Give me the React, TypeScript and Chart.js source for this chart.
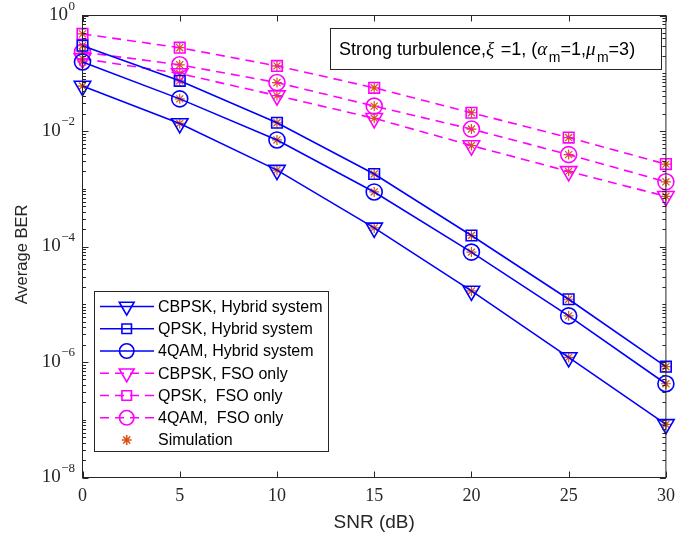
import React, { useEffect, useRef } from "react";
import { Chart, registerables } from "chart.js";
Chart.register(...registerables);

// ---------- data ----------
const snr = [0, 5, 10, 15, 20, 25, 30];
const cbpskHybrid = [6.0e-2, 1.35e-2, 2.1e-3, 2.1e-4, 1.7e-5, 1.2e-6, 8.3e-8];
const qpskHybrid = [3.0e-1, 7.4e-2, 1.39e-2, 1.8e-3, 1.55e-4, 1.22e-5, 8.3e-7];
const qamHybrid = [1.57e-1, 3.6e-2, 7.0e-3, 8.8e-4, 8.0e-5, 6.3e-6, 4.2e-7];
const cbpskFso = [1.79e-1, 9.9e-2, 4.1e-2, 1.66e-2, 5.6e-3, 2.0e-3, 7.4e-4];
const qpskFso = [4.8e-1, 2.77e-1, 1.34e-1, 5.6e-2, 2.07e-2, 7.7e-3, 2.67e-3];
const qamFso = [2.33e-1, 1.4e-1, 6.9e-2, 2.7e-2, 1.08e-2, 3.9e-3, 1.32e-3];

const seriesLabels = [
  "CBPSK, Hybrid system",
  "QPSK, Hybrid system",
  "4QAM, Hybrid system",
  "CBPSK, FSO only",
  "QPSK,  FSO only",
  "4QAM,  FSO only",
];
const simLabel = "Simulation";
const xTickValues = [0, 5, 10, 15, 20, 25, 30];
const yTickExponents = [0, -2, -4, -6, -8];
const xTitle = "SNR (dB)";
const yTitle = "Average BER";

// ---------- styles ----------
const BLUE = "#0000ff";
const MAGENTA = "#ff00ff";
const SIM = "#d95319";
const AXIS = "#262626";
const SANS = "'Liberation Sans', Arial, sans-serif";
const SERIF = "'Liberation Serif', 'Times New Roman', serif";

const styles = [
  { color: BLUE, dash: [] as number[], shape: "triangle", r: 9.5 },
  { color: BLUE, dash: [] as number[], shape: "rect", r: 7.5 },
  { color: BLUE, dash: [] as number[], shape: "circle", r: 8 },
  { color: MAGENTA, dash: [9, 6], shape: "triangle", r: 9.5 },
  { color: MAGENTA, dash: [9, 6], shape: "rect", r: 7.5 },
  { color: MAGENTA, dash: [9, 6], shape: "circle", r: 8 },
];
const seriesData = [cbpskHybrid, qpskHybrid, qamHybrid, cbpskFso, qpskFso, qamFso];

function drawShape(ctx: CanvasRenderingContext2D, shape: string, x: number, y: number, r: number, color: string) {
  ctx.save();
  ctx.strokeStyle = color;
  ctx.lineWidth = 1.6;
  ctx.setLineDash([]);
  ctx.beginPath();
  if (shape === "triangle") {
    const h = (r * Math.sqrt(3)) / 2;
    ctx.moveTo(x, y + r);
    ctx.lineTo(x - h, y - r / 2);
    ctx.lineTo(x + h, y - r / 2);
    ctx.closePath();
  } else if (shape === "rect") {
    const s = r * Math.SQRT1_2;
    ctx.rect(x - s, y - s, 2 * s, 2 * s);
  } else if (shape === "circle") {
    ctx.arc(x, y, r, 0, Math.PI * 2);
  } else if (shape === "star") {
    for (let i = 0; i < 4; i++) {
      const ang = (i * Math.PI) / 4;
      ctx.moveTo(x + Math.cos(ang) * r, y + Math.sin(ang) * r);
      ctx.lineTo(x - Math.cos(ang) * r, y - Math.sin(ang) * r);
    }
  }
  ctx.stroke();
  ctx.restore();
}

const decorPlugin = {
  id: "decor",
  beforeDraw(chart: any) {
    const { ctx, width, height } = chart;
    ctx.save();
    ctx.fillStyle = "#ffffff";
    ctx.fillRect(0, 0, width, height);
    ctx.restore();
  },
  afterDraw(chart: any) {
    const { ctx, chartArea: a, scales } = chart;
    const xs = scales.x;
    const ys = scales.y;
    ctx.save();
    ctx.strokeStyle = AXIS;
    ctx.lineWidth = 1;
    ctx.setLineDash([]);
    const line = (x1: number, y1: number, x2: number, y2: number) => {
      ctx.beginPath();
      ctx.moveTo(x1, y1);
      ctx.lineTo(x2, y2);
      ctx.stroke();
    };
    // x ticks
    for (const v of xTickValues) {
      const px = Math.round(xs.getPixelForValue(v)) + 0.5;
      line(px, a.bottom, px, a.bottom - 6);
      line(px, a.top, px, a.top + 6);
    }
    // y ticks
    for (let k = -8; k <= 0; k++) {
      const major = yTickExponents.includes(k);
      const py = Math.round(ys.getPixelForValue(Math.pow(10, k))) + 0.5;
      const len = major ? 6 : 3.5;
      line(a.left, py, a.left + len, py);
      line(a.right, py, a.right - len, py);
      if (k < 0) {
        for (let m = 2; m <= 9; m++) {
          const pm = Math.round(ys.getPixelForValue(m * Math.pow(10, k))) + 0.5;
          line(a.left, pm, a.left + 3.5, pm);
          line(a.right, pm, a.right - 3.5, pm);
        }
      }
    }
    // frame
    ctx.strokeRect(a.left, a.top, a.right - a.left, a.bottom - a.top);

    // tick labels
    ctx.fillStyle = AXIS;
    ctx.textBaseline = "middle";
    ctx.textAlign = "center";
    ctx.font = `18px ${SERIF}`;
    for (const v of xTickValues) {
      ctx.fillText(String(v), xs.getPixelForValue(v), a.bottom + 19);
    }
    ctx.textAlign = "left";
    for (const k of yTickExponents) {
      const py = ys.getPixelForValue(Math.pow(10, k));
      const sup = k === 0 ? "0" : "\u2212" + Math.abs(k);
      ctx.font = `13px ${SERIF}`;
      const supW = ctx.measureText(sup).width;
      ctx.font = `19px ${SERIF}`;
      const baseW = ctx.measureText("10").width;
      const xEnd = a.left - 7.5;
      const supX = xEnd - supW;
      ctx.fillText("10", supX - baseW - 0.5, py);
      ctx.font = `13px ${SERIF}`;
      ctx.fillText(sup, supX, py - 9);
    }

    // axis titles
    ctx.fillStyle = AXIS;
    ctx.font = `19px ${SANS}`;
    ctx.textAlign = "center";
    ctx.fillText(xTitle, (a.left + a.right) / 2, 523);
    ctx.save();
    ctx.translate(22, (a.top + a.bottom) / 2 + 8);
    ctx.rotate(-Math.PI / 2);
    ctx.font = `16.5px ${SANS}`;
    ctx.fillText(yTitle, 0, 0);
    ctx.restore();

    // annotation box
    ctx.fillStyle = "#ffffff";
    ctx.fillRect(330.5, 28.5, 331, 41);
    ctx.strokeStyle = AXIS;
    ctx.strokeRect(330.5, 28.5, 331, 41);
    const segs = [
      { t: "Strong turbulence,", f: `18px ${SANS}`, dy: 0 },
      { t: "\u03BE", f: `italic 19px ${SERIF}`, dy: 0 },
      { t: " =1, (", f: `18px ${SANS}`, dy: 0 },
      { t: "\u03B1", f: `italic 19px ${SERIF}`, dy: 0 },
      { t: "m", f: `14px ${SANS}`, dy: 7 },
      { t: "=1,", f: `18px ${SANS}`, dy: 0 },
      { t: "\u03BC", f: `italic 19px ${SERIF}`, dy: 0 },
      { t: "m", f: `14px ${SANS}`, dy: 7 },
      { t: "=3)", f: `18px ${SANS}`, dy: 0 },
    ];
    ctx.textBaseline = "alphabetic";
    ctx.textAlign = "left";
    ctx.fillStyle = "#000000";
    let tx = 339;
    for (const s of segs) {
      ctx.font = s.f;
      ctx.fillText(s.t, tx, 54.5 + s.dy);
      tx += ctx.measureText(s.t).width + (s.f.includes("italic") ? 1.5 : 0);
    }

    // legend
    const lx = 94.5, ly = 291.5, lw = 234, lh = 160;
    ctx.fillStyle = "#ffffff";
    ctx.fillRect(lx, ly, lw, lh);
    ctx.strokeStyle = AXIS;
    ctx.lineWidth = 1;
    ctx.strokeRect(lx, ly, lw, lh);
    ctx.font = `16px ${SANS}`;
    ctx.textBaseline = "middle";
    for (let i = 0; i < 7; i++) {
      const ry = 306.5 + i * 22.25;
      if (i < 6) {
        const st = styles[i];
        ctx.save();
        ctx.strokeStyle = st.color;
        ctx.lineWidth = 1.6;
        ctx.setLineDash(st.dash);
        ctx.beginPath();
        ctx.moveTo(100, ry);
        ctx.lineTo(154, ry);
        ctx.stroke();
        ctx.restore();
        drawShape(ctx, st.shape, 126.7, ry, st.r * 0.9, st.color);
      } else {
        drawShape(ctx, "star", 126.7, ry, 5, SIM);
      }
      ctx.fillStyle = "#000000";
      ctx.fillText(i < 6 ? seriesLabels[i] : simLabel, 158, ry + 1);
    }
    ctx.restore();
  },
};

export default function App() {
  const ref = useRef<HTMLCanvasElement | null>(null);
  useEffect(() => {
    document.body.style.margin = "0";
    const canvas = ref.current;
    if (!canvas) return;
    const datasets: any[] = seriesData.map((arr, i) => ({
      label: seriesLabels[i],
      data: snr.map((x, j) => ({ x, y: arr[j] })),
      borderColor: styles[i].color,
      borderWidth: 1.6,
      borderDash: styles[i].dash,
      pointStyle: styles[i].shape,
      pointRotation: styles[i].shape === "triangle" ? 180 : 0,
      pointRadius: styles[i].r,
      pointBorderColor: styles[i].color,
      pointBackgroundColor: "rgba(0,0,0,0)",
      pointBorderWidth: 1.6,
      fill: false,
      tension: 0,
      clip: false,
    }));
    const simPoints: { x: number; y: number }[] = [];
    seriesData.forEach((arr) => snr.forEach((x, j) => simPoints.push({ x, y: arr[j] })));
    datasets.push({
      label: simLabel,
      data: simPoints,
      showLine: false,
      pointStyle: "star",
      pointRadius: 5,
      pointBorderColor: SIM,
      pointBackgroundColor: SIM,
      pointBorderWidth: 1.2,
      borderColor: SIM,
      clip: false,
    });
    const chart = new Chart(canvas, {
      type: "line",
      data: { datasets },
      options: {
        animation: false,
        responsive: false,
        maintainAspectRatio: false,
        layout: { padding: { left: 82.5, right: 6.5, top: 15.5, bottom: 59.5 } },
        scales: {
          x: { type: "linear", min: 0, max: 30, display: false },
          y: { type: "logarithmic", min: 1e-8, max: 1, display: false },
        },
        plugins: { legend: { display: false }, tooltip: { enabled: false } },
        elements: { line: { borderCapStyle: "butt" } },
      },
      plugins: [decorPlugin],
    });
    return () => chart.destroy();
  }, []);
  return <canvas ref={ref} width={677} height={537} style={{ display: "block" }} />;
}
